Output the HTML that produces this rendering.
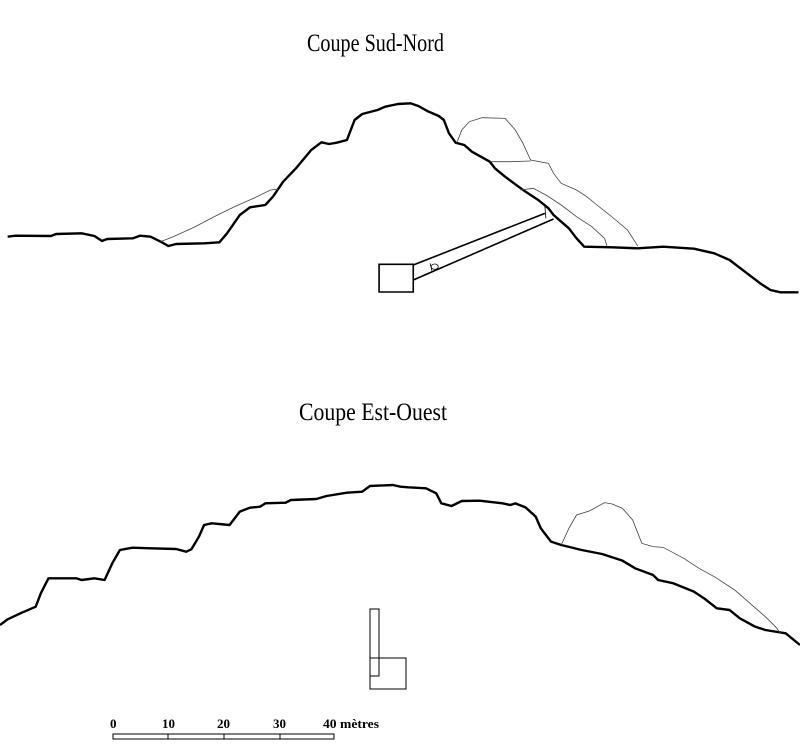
<!DOCTYPE html>
<html><head><meta charset="utf-8"><style>html,body{margin:0;padding:0;background:#fff;width:800px;height:754px;overflow:hidden}</style></head>
<body>
<svg width="800" height="754" viewBox="0 0 800 754" xmlns="http://www.w3.org/2000/svg">
<rect width="800" height="754" fill="#fff"/>
<text x="307" y="51" font-family="Liberation Serif, serif" font-size="25" textLength="137" lengthAdjust="spacingAndGlyphs">Coupe Sud-Nord</text>
<text x="299" y="420" font-family="Liberation Serif, serif" font-size="25" textLength="148" lengthAdjust="spacingAndGlyphs">Coupe Est-Ouest</text>

<g transform="translate(0,90) scale(0.5102,0.33333)" fill="none" stroke="#000">
<polyline vector-effect="non-scaling-stroke" stroke-width="2.4" stroke-linejoin="round" points="15,440 30,437 100,438 110,432 160,430 185,438 200,453 210,447 260,445 275,437 295,440 315,455 330,468 345,462 400,460 430,457 445,430 470,375 490,352 520,345 535,320 555,275 580,235 610,180 630,157 645,162 660,158 680,150 695,90 710,72 740,60 755,50 780,42 805,40 820,48 840,65 860,78 870,90 880,130 893,158 910,165 925,185 960,215 970,235 990,260 1010,283 1030,305 1055,330 1075,355 1085,375 1100,395 1115,415 1130,445 1145,470 1200,472 1250,475 1300,470 1360,476 1400,490 1430,510 1460,545 1490,580 1510,600 1530,607 1565,607"/>
<polyline vector-effect="non-scaling-stroke" stroke-width="0.8" stroke="#444" points="315,455 340,440 380,412 420,380 460,350 500,323 530,300 545,298"/>
<polyline vector-effect="non-scaling-stroke" stroke-width="0.8" stroke="#444" points="895,160 905,120 920,95 945,83 990,85 1010,120 1025,160 1040,210 1075,220 1085,250 1100,280 1130,300 1150,320 1170,345 1195,375 1230,420 1250,468"/>
<polyline vector-effect="non-scaling-stroke" stroke-width="0.8" stroke="#444" points="960,215 1000,215 1040,213"/>
<polyline vector-effect="non-scaling-stroke" stroke-width="0.8" stroke="#444" points="1020,300 1045,295 1070,315 1100,345 1130,380 1160,410 1185,445 1190,470"/>
<line vector-effect="non-scaling-stroke" stroke-width="1.6" x1="810" y1="525" x2="1068" y2="370"/>
<line vector-effect="non-scaling-stroke" stroke-width="1.6" x1="810" y1="570" x2="1085" y2="387"/>
<rect vector-effect="non-scaling-stroke" stroke-width="1.6" x="743" y="523" width="67" height="83"/>
<line vector-effect="non-scaling-stroke" stroke-width="0.8" x1="1068" y1="350" x2="1070" y2="385"/>
<line vector-effect="non-scaling-stroke" stroke-width="0.8" x1="843" y1="520" x2="847" y2="545"/>
<ellipse vector-effect="non-scaling-stroke" stroke-width="0.8" cx="852" cy="530" rx="7" ry="8"/>
</g>

<g transform="translate(0,470) scale(0.5102,0.33333)" fill="none" stroke="#000">
<polyline vector-effect="non-scaling-stroke" stroke-width="2.4" stroke-linejoin="round" points="0,465 15,448 40,430 70,410 80,370 95,325 150,325 160,330 185,325 205,330 220,280 235,240 260,233 295,235 345,237 365,245 375,238 390,200 400,165 415,160 450,165 470,125 490,113 510,110 520,100 560,98 570,90 620,87 640,78 680,68 710,65 725,48 770,45 785,50 800,52 835,55 855,70 865,100 885,108 905,93 940,92 985,100 1000,105 1010,100 1030,112 1050,140 1060,175 1080,215 1100,225 1140,240 1180,252 1220,272 1245,295 1280,315 1290,330 1320,340 1360,365 1380,385 1405,415 1430,420 1450,445 1480,470 1500,480 1540,490 1568,525"/>
<polyline vector-effect="non-scaling-stroke" stroke-width="0.8" stroke="#444" points="1100,225 1115,175 1130,135 1155,123 1185,98 1200,102 1220,115 1240,150 1258,220 1280,230 1300,232 1340,265 1370,295 1400,320 1440,360 1470,400 1500,440 1520,470 1530,490"/>
</g>

<g fill="none" stroke="#000" stroke-width="1">
<rect x="370" y="609" width="9" height="67"/>
<rect x="370" y="658" width="36" height="31"/>
<rect x="113" y="734" width="221" height="5"/>
<line x1="168" y1="734" x2="168" y2="739"/>
<line x1="224" y1="734" x2="224" y2="739"/>
<line x1="280" y1="734" x2="280" y2="739"/>
</g>
<g font-family="Liberation Serif, serif" font-size="13" font-weight="bold">
<text x="110" y="728">0</text>
<text x="162" y="728">10</text>
<text x="217" y="728">20</text>
<text x="273" y="728">30</text>
<text x="323" y="728" textLength="56" lengthAdjust="spacingAndGlyphs">40 mètres</text>
</g>
</svg>
</body></html>
